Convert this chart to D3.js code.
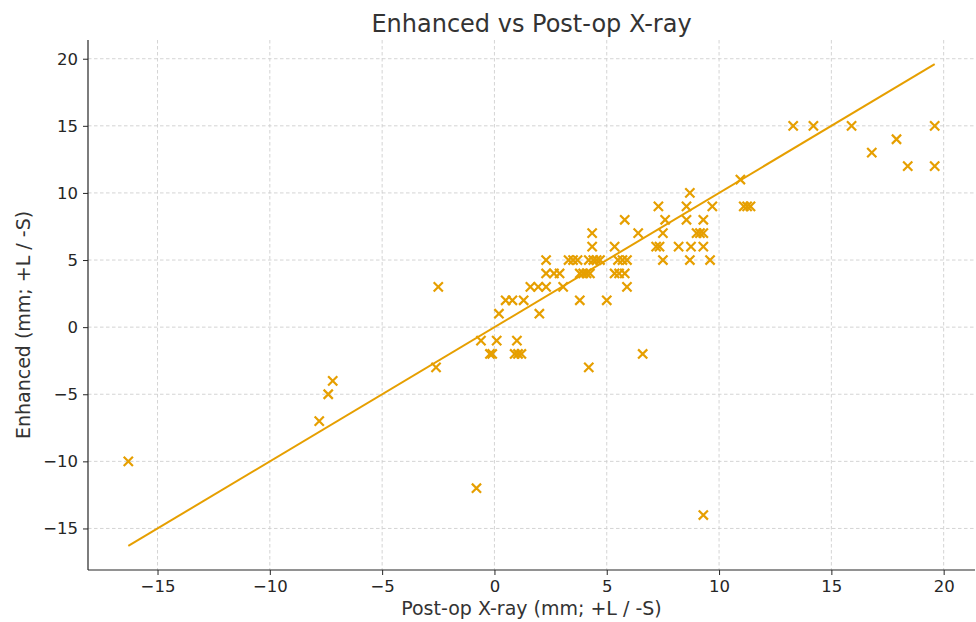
<!DOCTYPE html>
<html>
<head>
<meta charset="utf-8">
<script src="https://cdn.jsdelivr.net/npm/d3@7"></script>
<style>
    body { margin: 0; background: #fff; }
    text { font-family: "DejaVu Sans", sans-serif; fill: #262626; }
</style>
</head>
<body>
<div id="chart"></div>
<script>
// DATA //
// post-op x-ray reading (x) and enhanced reading (y), one entry per case
const postOp = [
    -16.3, -7.8, -7.4, -7.2, -2.5, -2.6, -0.8, 9.3, 4.2, 6.6,
    -0.2, -0.1, 0.9, 1.05, 1.2,
    -0.6, 0.1, 1.0,
    0.2, 2.0,
    0.5, 0.8, 1.3, 3.8, 5.0,
    1.6, 1.95, 2.3, 3.06, 5.9,
    2.3, 2.65, 2.9, 3.8, 3.95, 4.1, 4.25, 5.35, 5.55, 5.8,
    2.3, 3.3, 3.5, 3.7, 4.2, 4.4, 4.55, 4.7, 5.5, 5.7, 5.9, 7.5, 8.7, 9.6,
    4.35, 5.35, 7.2, 7.35, 8.2, 8.75, 9.3,
    4.35, 6.4, 7.5, 9.0, 9.15, 9.3,
    5.8, 7.6, 8.55, 9.3,
    7.3, 8.55, 9.7, 11.1, 11.25, 11.4,
    8.7, 10.95,
    18.4, 19.6, 16.8, 17.9,
    13.3, 14.2, 15.9, 19.6
]
const enhanced = [
    -10, -7, -5, -4, 3, -3, -12, -14, -3, -2,
    -2, -2, -2, -2, -2,
    -1, -1, -1,
    1, 1,
    2, 2, 2, 2, 2,
    3, 3, 3, 3, 3,
    4, 4, 4, 4, 4, 4, 4, 4, 4, 4,
    5, 5, 5, 5, 5, 5, 5, 5, 5, 5, 5, 5, 5, 5,
    6, 6, 6, 6, 6, 6, 6,
    7, 7, 7, 7, 7, 7,
    8, 8, 8, 8,
    9, 9, 9, 9, 9, 9,
    10, 11,
    12, 12, 13, 14,
    15, 15, 15, 15
]
const xTicks = [-15, -10, -5, 0, 5, 10, 15, 20]
const yTicks = [-15, -10, -5, 0, 5, 10, 15, 20]

const dataset = postOp.map((x, i) => ({ x: x, y: enhanced[i] }))

// Set dimensions
let dimensions = {
    width: 976,
    height: 622,
    margin: {
        top: 40,
        right: 1,
        bottom: 52,
        left: 88,
    },
}
dimensions.boundedWidth = dimensions.width
    - dimensions.margin.left
    - dimensions.margin.right
dimensions.boundedHeight = dimensions.height
    - dimensions.margin.top
    - dimensions.margin.bottom

const orange = "#e69f00"

const xAccessor = d => d.x
const yAccessor = d => d.y

// identity line spans the observed post-op range
const lineExtent = d3.extent(dataset, xAccessor)

// matplotlib style 5% padding
const pad = (lineExtent[1] - lineExtent[0]) * 0.05
const xScale = d3.scaleLinear()
    .domain([lineExtent[0] - pad, lineExtent[1] + pad])
    .range([0, dimensions.boundedWidth])

const yScale = d3.scaleLinear()
    .domain([lineExtent[0] - pad, lineExtent[1] + pad])
    .range([dimensions.boundedHeight, 0])

const wrapper = d3.select("#chart")
    .append("svg")
    .attr("width", dimensions.width)
    .attr("height", dimensions.height)

const bounds = wrapper.append("g")
    .style("transform", `translate(${dimensions.margin.left}px, ${dimensions.margin.top}px)`)

// grid
bounds.append("g")
    .selectAll("line")
    .data(xTicks)
    .join("line")
    .attr("x1", d => xScale(d))
    .attr("x2", d => xScale(d))
    .attr("y1", 0)
    .attr("y2", dimensions.boundedHeight)
    .attr("stroke", "#cfcfcf")
    .attr("stroke-width", 0.9)
    .attr("stroke-dasharray", "3.5,2.5")

bounds.append("g")
    .selectAll("line")
    .data(yTicks)
    .join("line")
    .attr("x1", 0)
    .attr("x2", dimensions.boundedWidth)
    .attr("y1", d => yScale(d))
    .attr("y2", d => yScale(d))
    .attr("stroke", "#cfcfcf")
    .attr("stroke-width", 0.9)
    .attr("stroke-dasharray", "3.5,2.5")

// y = x reference line
bounds.append("line")
    .attr("x1", xScale(lineExtent[0]))
    .attr("y1", yScale(lineExtent[0]))
    .attr("x2", xScale(lineExtent[1]))
    .attr("y2", yScale(lineExtent[1]))
    .attr("stroke", orange)
    .attr("stroke-width", 2)

// x markers
const s = 4.6
bounds.append("g")
    .selectAll("path")
    .data(dataset)
    .join("path")
    .attr("transform", d => `translate(${xScale(xAccessor(d))},${yScale(yAccessor(d))})`)
    .attr("d", `M${-s},${-s}L${s},${s}M${-s},${s}L${s},${-s}`)
    .attr("stroke", orange)
    .attr("stroke-width", 2.2)
    .attr("fill", "none")

// axes
const xAxisGenerator = d3.axisBottom(xScale)
    .tickValues(xTicks)
    .tickSize(5)
    .tickPadding(5)

const yAxisGenerator = d3.axisLeft(yScale)
    .tickValues(yTicks)
    .tickSize(5)
    .tickPadding(5)

const xAxis = bounds.append("g")
    .call(xAxisGenerator)
    .style("transform", `translateY(${dimensions.boundedHeight}px)`)

const yAxis = bounds.append("g")
    .call(yAxisGenerator)

// only left and bottom spines, no end caps
xAxis.select(".domain").attr("d", `M0,0H${dimensions.boundedWidth}`)
yAxis.select(".domain").attr("d", `M0,0V${dimensions.boundedHeight}`)

bounds.selectAll(".domain")
    .attr("stroke", "#262626")
    .attr("stroke-width", 1.2)

bounds.selectAll(".tick line")
    .attr("stroke", "#262626")
    .attr("stroke-width", 1)

bounds.selectAll(".tick text")
    .style("font-family", "DejaVu Sans, sans-serif")
    .style("font-size", "16.5px")
    .attr("fill", "#262626")

// labels
wrapper.append("text")
    .attr("x", dimensions.margin.left + dimensions.boundedWidth / 2)
    .attr("y", 32)
    .attr("text-anchor", "middle")
    .style("font-size", "24px")
    .style("fill", "#333")
    .text("Enhanced vs Post-op X-ray")

wrapper.append("text")
    .attr("x", dimensions.margin.left + dimensions.boundedWidth / 2)
    .attr("y", 615)
    .attr("text-anchor", "middle")
    .style("font-size", "19px")
    .style("fill", "#333")
    .text("Post-op X-ray (mm; +L / -S)")

wrapper.append("text")
    .attr("transform", `translate(30, ${dimensions.margin.top + dimensions.boundedHeight / 2 + 20}) rotate(-90)`)
    .attr("text-anchor", "middle")
    .style("font-size", "19px")
    .style("fill", "#333")
    .text("Enhanced (mm; +L / -S)")
</script>
</body>
</html>
